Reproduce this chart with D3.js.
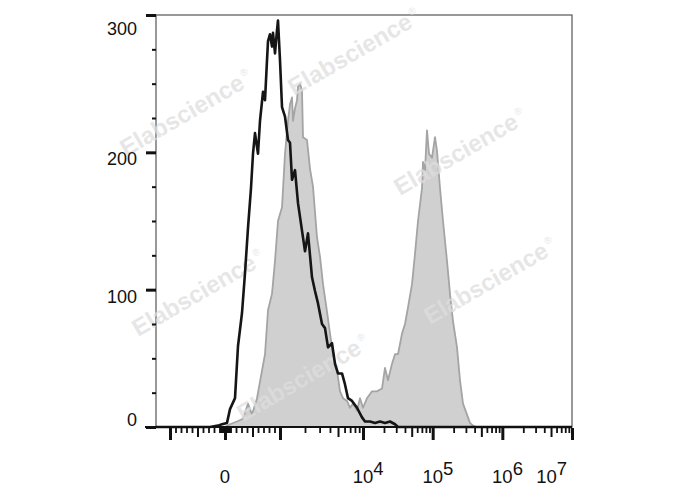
<!DOCTYPE html>
<html><head><meta charset="utf-8">
<script src="https://cdn.jsdelivr.net/npm/d3@7"></script>
<style>body{margin:0;background:#fff}svg{display:block}</style>
</head><body>
<svg id="chart" width="688" height="490"></svg>
<script>
// ---- data (x in display channels 0..1040, y = count) ----
const isotypeX = [0,135,155,165,177.5,185,197.5,205,215,222.5,230,237.5,242.5,247.5,255,260,267.5,272.5,277.5,280,285,290,292.5,297.5,302.5,305,310,315,322.5,330,335,340,347.5,355,365,372.5,380,390,397.5,405,415,422.5,430,440,447.5,455,465,472.5,480,490,502.5,515,522.5,535,547.5,560,572.5,585,597.5,605,1040];
const isotypeY = [0,0,1,2,3,13,21,59,83,112,145,174,199,214,199,223,244,238,267,281,286,277,287,272,289,296,267,233,226,209,207,180,187,163,143,128,141,109,99,90,75,72,58,61,46,39,39,31,21,19,14,7,4,4,3,4,3,4,2,0,0];
const stainedX = [172.5,185,202.5,217.5,230,240,252.5,265,272.5,280,290,297.5,305,315,322.5,330,335,340,342.5,347.5,352.5,355,360,365,367.5,377.5,385,392.5,402.5,410,417.5,427.5,435,442.5,452.5,460,467.5,477.5,485,492.5,502.5,510,517.5,527.5,540,552.5,565,572.5,580,590,597.5,605,615,622.5,630,640,647.5,655,665,667.5,672.5,677.5,682.5,690,697.5,702.5,710,717.5,727.5,735,742.5,752.5,760,767.5,777.5,785,792.5,800];
const stainedY = [0,2,4,6,17,9,21,41,53,85,97,121,150,160,199,223,235,240,223,232,238,248,250,245,211,209,188,175,138,124,104,84,68,53,41,26,21,19,14,17,12,21,14,21,26,26,28,43,34,46,53,53,68,75,87,104,126,150,174,193,187,216,199,196,211,201,174,150,121,97,77,58,34,17,9,3,1,0];

const yTickValues = [0,100,200,300];
const yTickLabels = ["0","100","200","300"];
const yMinorValues = [25,50,75,125,150,175,225,250,275];
const xMajorValues = [-1000,0,1000,1e4,1e5,1e6,1e7];
const xLabelValues = [0,1e4,1e5,1e6,1e7];
const xLabelBase = ["0","10","10","10","10"];
const xLabelExp = ["","4","5","6","7"];
const watermarkText = "Elabscience";

// ---- biexponential display transform (value -> channel) ----
function biex(v){
  if (v <= 1000) return 172.5 + v * 0.1375;
  if (v <= 1e4) return 310 + 207.5 * Math.log10(v/1000);
  return 517.5 + 174.1667 * Math.log10(v/1e4);
}
// minor ticks
const xMinorValues = [], xMidValues = [];
for (let k=10;k<100;k+=10){ xMinorValues.push(k,-k); }
for (let k=100;k<1000;k+=100){ if(k===500){xMidValues.push(k,-k);} else xMinorValues.push(k,-k); }
for (let e=1e3;e<1e7;e*=10){ for(let m=2;m<10;m++){ if(m===5) xMidValues.push(m*e); else xMinorValues.push(m*e);} }

const svg = d3.select("#chart");
const L=156, R=572, T=15, B=427;
const x = d3.scaleLinear().domain([0,1040]).range([L,R]);
const y = d3.scaleLinear().domain([0,300]).range([B,T]);

function makeBiexScale(){
  const s = v => x(biex(v));
  s.domain = () => [-1254, 1e7];
  s.range = () => x.range();
  s.copy = () => makeBiexScale();
  return s;
}
const xb = makeBiexScale();

// frame
svg.append("rect").attr("x",L).attr("y",T).attr("width",R-L).attr("height",B-T)
  .attr("fill","none").attr("stroke","#555").attr("stroke-width",1.2);

// stained (gray filled)
const pts2 = stainedX.map((d,i)=>[d,stainedY[i]]);
svg.append("path").datum(pts2)
  .attr("d", d3.area().x(d=>x(d[0])).y0(y(0)).y1(d=>y(d[1])))
  .attr("fill","#d0d0d0").attr("stroke","#a4a4a4").attr("stroke-width",1.8).attr("stroke-linejoin","round");

// watermarks
const wmPos = [[294,96],[126,157],[400,196],[138,337],[430,325],[243,422]];
const wm = svg.append("g").attr("font-family","Liberation Sans, Arial, sans-serif")
  .attr("font-weight","bold").attr("font-size",24).attr("fill","#dedede").attr("fill-opacity",0.75);
wmPos.forEach(p=>{
  const t = wm.append("text").attr("transform",`translate(${p[0]},${p[1]}) rotate(-30)`);
  t.append("tspan").text(watermarkText);
  t.append("tspan").attr("font-size",10).attr("font-weight","normal").attr("dy",-11).attr("dx",2).text("®");
});

// isotype (black line)
const pts1 = isotypeX.map((d,i)=>[d,isotypeY[i]]);
svg.append("path").datum(pts1)
  .attr("d", d3.line().x(d=>x(d[0])).y(d=>y(d[1])))
  .attr("fill","none").attr("stroke","#151515").attr("stroke-width",2.6).attr("stroke-linejoin","round");

// y axis
const gy = svg.append("g").attr("transform",`translate(${L},0)`);
gy.call(d3.axisLeft(y).tickValues(yTickValues).tickSize(10).tickFormat(""));
const gy2 = svg.append("g").attr("transform",`translate(${L},0)`);
gy2.call(d3.axisLeft(y).tickValues(yMinorValues).tickSize(4).tickFormat(""));
[gy,gy2].forEach(g=>{ g.select(".domain").remove(); });
gy.selectAll(".tick line").attr("stroke","#111").attr("stroke-width",3);
gy2.selectAll(".tick line").attr("stroke","#111").attr("stroke-width",2);
svg.append("g").selectAll("text").data(yTickValues).join("text")
  .attr("x",137).attr("y",d=>Math.min(Math.max(y(d),22),B-14)+13)
  .attr("text-anchor","end").attr("font-family","Liberation Sans, Arial, sans-serif")
  .attr("font-size",18).attr("fill","#111").text((d,i)=>yTickLabels[i]);

// x axis line
svg.append("line").attr("x1",145).attr("x2",R).attr("y1",B).attr("y2",B)
  .attr("stroke","#111").attr("stroke-width",2.2);
[[xMajorValues,12,3],[xMidValues,9,2],[xMinorValues,5,1.8]].forEach(([vals,len,w])=>{
  const g = svg.append("g").attr("transform",`translate(0,${B+1})`);
  g.call(d3.axisBottom(xb).tickValues(vals).tickSize(len).tickFormat(""));
  g.select(".domain").remove();
  g.selectAll(".tick line").attr("stroke","#111").attr("stroke-width",w);
});

// x labels
const fs = 18.5;
const xl = svg.append("g").attr("font-family","Liberation Sans, Arial, sans-serif").attr("font-size",fs).attr("fill","#111");
xLabelValues.forEach((v,i)=>{
  let cx = xb(v);
  const baseW = xLabelBase[i].length*fs*0.556, expW = xLabelExp[i].length*fs*0.556;
  const rightEdge = cx + baseW/2 + expW;
  if (rightEdge > R-5) cx -= (rightEdge-(R-5));
  const t = xl.append("text").attr("x",cx-baseW/2).attr("y",483);
  t.append("tspan").text(xLabelBase[i]);
  if (xLabelExp[i]) t.append("tspan").attr("dy",-8).text(xLabelExp[i]);
});
</script>
</body></html>
